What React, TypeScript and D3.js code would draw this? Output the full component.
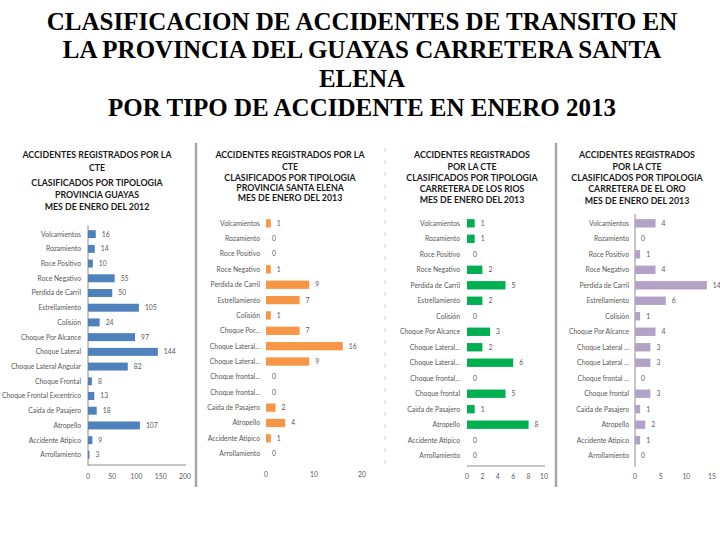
import React from "react";
import * as d3 from "d3";

// categories as printed on each panel
const catsFull = [
  "Volcamientos", "Rozamiento", "Roce Positivo", "Roce Negativo", "Perdida de Carril",
  "Estrellamiento", "Colisión", "Choque Por Alcance", "Choque Lateral", "Choque Lateral Angular",
  "Choque Frontal", "Choque Frontal Excentrico", "Caida de Pasajero", "Atropello",
  "Accidente Atipico", "Arrollamiento",
];
const catsElena = [
  "Volcamientos", "Rozamiento", "Roce Positivo", "Roce Negativo", "Perdida de Carril",
  "Estrellamiento", "Colisión", "Choque Por...", "Choque Lateral...", "Choque Lateral...",
  "Choque frontal...", "Choque frontal...", "Caida de Pasajero", "Atropello",
  "Accidente Atipico", "Arrollamiento",
];
const catsRios = [
  "Volcamientos", "Rozamiento", "Roce Positivo", "Roce Negativo", "Perdida de Carril",
  "Estrellamiento", "Colisión", "Choque Por Alcance", "Choque Lateral...", "Choque Lateral...",
  "Choque frontal...", "Choque frontal", "Caida de Pasajero", "Atropello",
  "Accidente Atipico", "Arrollamiento",
];
const catsOro = [
  "Volcamientos", "Rozamiento", "Roce Positivo", "Roce Negativo", "Perdida de Carril",
  "Estrellamiento", "Colisión", "Choque Por Alcance", "Choque Lateral ...", "Choque Lateral ...",
  "Choque frontal ...", "Choque frontal", "Caida de Pasajero", "Atropello",
  "Accidente Atipico", "Arrollamiento",
];

const valGuayas = [16, 14, 10, 55, 50, 105, 24, 97, 144, 82, 8, 13, 18, 107, 9, 3];
const valElena = [1, 0, 0, 1, 9, 7, 1, 7, 16, 9, 0, 0, 2, 4, 1, 0];
const valRios = [1, 1, 0, 2, 5, 2, 0, 3, 2, 6, 0, 5, 1, 8, 0, 0];
const valOro = [4, 0, 1, 4, 14, 6, 1, 4, 3, 3, 0, 3, 1, 2, 1, 0];

const ticksGuayas = [0, 50, 100, 150, 200];
const ticksElena = [0, 10, 20];
const ticksRios = [0, 2, 4, 6, 8, 10];
const ticksOro = [0, 5, 10, 15];

const titleGuayas = ["ACCIDENTES REGISTRADOS POR LA", "CTE", "CLASIFICADOS POR TIPOLOGIA", "PROVINCIA GUAYAS", "MES DE ENERO DEL 2012"];
const titleElena = ["ACCIDENTES REGISTRADOS POR LA", "CTE", "CLASIFICADOS POR TIPOLOGIA", "PROVINCIA SANTA ELENA", "MES DE ENERO DEL 2013"];
const titleRios = ["ACCIDENTES REGISTRADOS", "POR LA CTE", "CLASIFICADOS POR TIPOLOGIA", "CARRETERA DE LOS RIOS", "MES DE ENERO DEL 2013"];
const titleOro = ["ACCIDENTES REGISTRADOS", "POR LA CTE", "CLASIFICADOS POR TIPOLOGIA", "CARRETERA DE EL ORO", "MES DE ENERO DEL 2013"];

const mainTitle = [
  "CLASIFICACION DE ACCIDENTES DE TRANSITO EN",
  "LA PROVINCIA DEL GUAYAS CARRETERA SANTA",
  "ELENA",
  "POR TIPO DE ACCIDENTE EN ENERO 2013",
];

const sans = "Lato, 'Open Sans', sans-serif";
const grey = "#595959";

type PanelProps = {
  cats: string[];
  values: number[];
  ticks: number[];
  title: string[];
  color: string;
  titleX: number;
  titleY: number[];
  rows: [number, number];
  xr: [number, number];
  labelRight: number;
  axisY?: number;
  vAxis?: boolean;
  tickY: number;
};

function Panel(p: PanelProps) {
  const y = d3.scaleBand<number>().domain(d3.range(p.cats.length)).range(p.rows).padding(0.46);
  const x = d3.scaleLinear().domain([0, p.ticks[p.ticks.length - 1]]).range(p.xr);
  return (
    <g>
      {p.title.map((t, i) => (
        <text key={t + i} x={p.titleX} y={p.titleY[i]} textAnchor="middle" fontFamily={sans}
          fontWeight="bold" fontSize={8.8} fill="#1a1a1a">{t}</text>
      ))}
      {p.vAxis && (
        <line x1={x(0)} x2={x(0)} y1={p.rows[0] + 2} y2={p.rows[1]} stroke="#8c8c8c" strokeWidth={1} />
      )}
      {p.axisY !== undefined && (
        <line x1={x(0)} x2={p.xr[1] + 1} y1={p.axisY} y2={p.axisY} stroke="#8c8c8c" strokeWidth={1} />
      )}
      {p.values.map((v, i) => {
        const yy = y(i)!;
        return (
          <g key={i}>
            <text x={p.labelRight} y={yy + y.bandwidth() / 2 + 2.4} textAnchor="end" fontFamily={sans}
              fontSize={6.8} fill={grey}>{p.cats[i]}</text>
            <rect x={x(0)} y={yy} width={x(v) - x(0)} height={y.bandwidth()} fill={p.color} />
            <text x={x(v) + 6} y={yy + y.bandwidth() / 2 + 2.4} fontFamily={sans} fontSize={6.8}
              fill={grey}>{v}</text>
          </g>
        );
      })}
      {p.ticks.map((t) => (
        <text key={t} x={x(t)} y={p.tickY} textAnchor="middle" fontFamily={sans} fontSize={6.8}
          fill={grey}>{t}</text>
      ))}
    </g>
  );
}

export default function App() {
  return (
    <div style={{ position: "absolute", left: 0, top: 0 }}>
      <svg width={720} height={540} style={{ display: "block", background: "#fff" }}>
        {mainTitle.map((t, i) => (
          <text key={i} x={362} y={[30, 58, 87, 116][i]} textAnchor="middle"
            fontFamily="'Liberation Serif', 'Times New Roman', serif" fontWeight="bold" fontSize={25}
            fill="#000">{t}</text>
        ))}

        <line x1={196} x2={196} y1={143} y2={487} stroke="#a6a6a6" strokeWidth={2.5} />
        <line x1={556} x2={556} y1={143} y2={487} stroke="#a6a6a6" strokeWidth={2.5} />
        <line x1={385} x2={385} y1={148} y2={470} stroke="#d0d0d0" strokeWidth={1} strokeDasharray="4 8" />

        <Panel cats={catsFull} values={valGuayas} ticks={ticksGuayas} title={titleGuayas} color="#4f81bd"
          titleX={97} titleY={[158, 171, 186, 198, 210]} rows={[223.4, 465.6]} xr={[88, 185]}
          labelRight={81} axisY={465} vAxis tickY={479} />
        <Panel cats={catsElena} values={valElena} ticks={ticksElena} title={titleElena} color="#f79646"
          titleX={290} titleY={[158, 170, 181, 191, 201]} rows={[212.1, 464.9]} xr={[266, 362]}
          labelRight={260} tickY={477} />
        <Panel cats={catsRios} values={valRios} ticks={ticksRios} title={titleRios} color="#00b050"
          titleX={472} titleY={[158, 170, 181, 192, 203]} rows={[212, 467]} xr={[467, 544]}
          labelRight={460} axisY={466} tickY={479} />
        <Panel cats={catsOro} values={valOro} ticks={ticksOro} title={titleOro} color="#b3a2c7"
          titleX={637} titleY={[158, 170, 181, 192, 204]} rows={[212, 467]} xr={[635, 712]}
          labelRight={629} vAxis tickY={479} />
      </svg>
    </div>
  );
}
